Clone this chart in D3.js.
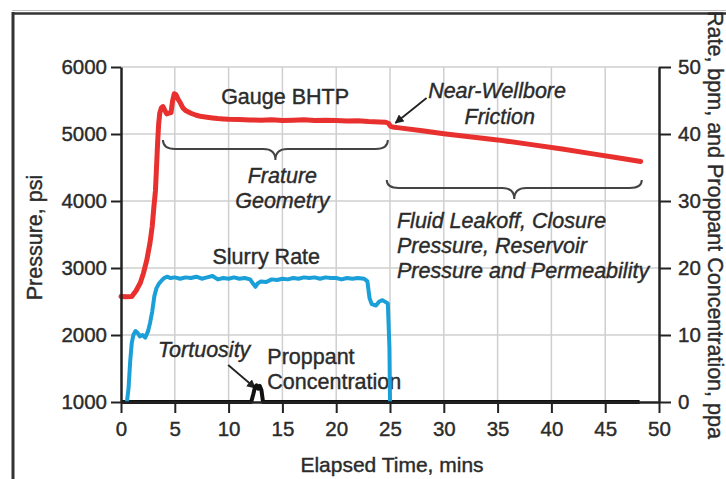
<!DOCTYPE html>
<html>
<head>
<meta charset="utf-8">
<script src="https://cdn.jsdelivr.net/npm/d3@7"></script>
<style>
  body { margin: 0; background: #fff; }
  svg { display: block; font-family: "Liberation Sans", Arial, Helvetica, sans-serif; }
</style>
</head>
<body>
<svg id="chart"></svg>
<script>
// Gauge BHTP: elapsed time (mins) vs pressure (psi)
const bhtpTime = [0, 0.5, 1.0, 1.4, 1.8, 2.1, 2.4, 2.7, 2.9, 3.05, 3.2, 3.3, 3.4, 3.5, 3.6, 3.75, 3.9, 4.05, 4.25, 4.45, 4.65, 4.8, 4.95, 5.1, 5.3, 5.5, 5.75, 6.0, 6.5, 7.0, 7.5, 8.0, 8.5, 9.0, 9.5, 10, 11, 12, 13, 14, 15, 16, 17, 18, 19, 20, 21, 22, 23, 24, 24.6, 24.85, 25.05, 25.4, 25.7, 28, 30, 32, 35, 38, 41, 44, 46, 48.3]
const bhtpPsi = [2575, 2570, 2575, 2660, 2780, 2930, 3120, 3380, 3620, 3900, 4150, 4500, 4860, 5150, 5310, 5390, 5410, 5360, 5300, 5310, 5320, 5500, 5600, 5590, 5520, 5470, 5390, 5350, 5310, 5280, 5260, 5250, 5240, 5230, 5225, 5220, 5215, 5210, 5205, 5212, 5200, 5207, 5212, 5200, 5206, 5200, 5195, 5197, 5185, 5180, 5175, 5160, 5115, 5100, 5095, 5050, 5005, 4965, 4912, 4845, 4775, 4700, 4650, 4590]

// Slurry rate: elapsed time (mins) vs rate (bpm)
const slurryTime = [0.55, 0.7, 0.85, 1.0, 1.15, 1.35, 1.55, 1.75, 2.0, 2.25, 2.5, 2.7, 2.9, 3.1, 3.3, 3.5, 3.7, 4.0, 4.3, 4.6, 5, 5.5, 6, 6.5, 7, 7.5, 8, 8.5, 9, 9.5, 10, 10.5, 11, 11.5, 12, 12.3, 12.5, 12.7, 13, 13.5, 14, 14.5, 15, 15.5, 16, 16.5, 17, 17.5, 18, 18.5, 19, 19.5, 20, 20.5, 21, 21.5, 22, 22.6, 22.9, 23.1, 23.3, 23.7, 24.0, 24.3, 24.6, 24.8, 24.95, 25.0]
const slurryRate = [0, 2, 6, 8.8, 10, 10.6, 10.3, 9.8, 10.0, 9.6, 10.5, 11.8, 13.5, 15.8, 17.0, 17.6, 18.0, 18.5, 18.7, 18.5, 18.6, 18.4, 18.6, 18.5, 18.7, 18.4, 18.6, 18.8, 18.3, 18.5, 18.4, 18.6, 18.4, 18.5, 18.3, 17.6, 17.2, 17.7, 18.0, 17.9, 18.3, 18.2, 18.4, 18.3, 18.5, 18.4, 18.6, 18.5, 18.6, 18.4, 18.6, 18.5, 18.5, 18.3, 18.5, 18.4, 18.5, 18.4, 18.0, 15.5, 14.6, 14.4, 15.0, 15.2, 14.9, 14.7, 8, 0]

// Proppant concentration: elapsed time (mins) vs ppa
const proppantTime = [0, 12.1, 12.3, 12.45, 12.6, 12.75, 12.9, 13.05, 13.2, 48.2]
const proppantPpa = [0, 0, 1.2, 2.2, 2.5, 2.0, 2.4, 1.8, 0, 0]

const timeTicks = [0, 5, 10, 15, 20, 25, 30, 35, 40, 45, 50]
const pressureTicks = [1000, 2000, 3000, 4000, 5000, 6000]
const rateTicks = [0, 10, 20, 30, 40, 50]

const width = 726, height = 479
const margin = { top: 67, right: 67, bottom: 77, left: 121 }
const textColor = "#2b2b2b"

const svg = d3.select("#chart")
  .attr("width", width)
  .attr("height", height)

const x = d3.scaleLinear().domain([0, 50]).range([margin.left, width - margin.right])
const y = d3.scaleLinear().domain([1000, 6000]).range([height - margin.bottom, margin.top])
const yRate = d3.scaleLinear().domain([0, 50]).range([height - margin.bottom, margin.top])

// outer frame of the figure (cut off at right and bottom)
svg.append("line").attr("x1", 12).attr("x2", width).attr("y1", 10.5).attr("y2", 10.5)
  .attr("stroke", "#bbb").attr("stroke-width", 1)
svg.append("line").attr("x1", 12).attr("x2", width).attr("y1", 13.5).attr("y2", 13.5)
  .attr("stroke", "#333").attr("stroke-width", 2.5)
svg.append("line").attr("x1", 13).attr("x2", 13).attr("y1", 12).attr("y2", height)
  .attr("stroke", "#333").attr("stroke-width", 3)

// grid
const grid = svg.append("g").attr("stroke", "#cfcfcf").attr("stroke-width", 1.5)
grid.selectAll(".vgrid")
  .data(timeTicks.slice(1, -1))
  .enter().append("line")
  .attr("x1", d => x(d)).attr("x2", d => x(d))
  .attr("y1", y(1000)).attr("y2", y(6000))
grid.selectAll(".hgrid")
  .data(pressureTicks.slice(1))
  .enter().append("line")
  .attr("x1", x(0)).attr("x2", x(50))
  .attr("y1", d => y(d)).attr("y2", d => y(d))

// annotations
const labels = [
  { text: "Gauge BHTP", t: 15.25, p: 5448, anchor: "middle", italic: false },
  { text: "Frature", t: 15.0, p: 4269, anchor: "middle", italic: true },
  { text: "Geometry", t: 15.0, p: 3896, anchor: "middle", italic: true },
  { text: "Near-Wellbore", t: 34.95, p: 5537, anchor: "middle", italic: true },
  { text: "Friction", t: 35.2, p: 5149, anchor: "middle", italic: true },
  { text: "Fluid Leakoff, Closure", t: 25.65, p: 3597, anchor: "start", italic: true },
  { text: "Pressure, Reservoir", t: 25.65, p: 3224, anchor: "start", italic: true },
  { text: "Pressure and Permeability", t: 25.65, p: 2851, anchor: "start", italic: true },
  { text: "Slurry Rate", t: 13.5, p: 3060, anchor: "middle", italic: false },
  { text: "Tortuosity", t: 7.73, p: 1672, anchor: "middle", italic: true },
  { text: "Proppant", t: 13.6, p: 1567, anchor: "start", italic: false },
  { text: "Concentration", t: 13.6, p: 1194, anchor: "start", italic: false }
]
svg.append("g").selectAll("text")
  .data(labels)
  .enter().append("text")
  .attr("x", d => x(d.t))
  .attr("y", d => y(d.p))
  .attr("text-anchor", d => d.anchor)
  .attr("font-style", d => d.italic ? "italic" : "normal")
  .attr("font-size", 21.5)
  .attr("fill", textColor)
  .attr("stroke", textColor)
  .attr("stroke-width", 0.4)
  .text(d => d.text)

// curly braces: time span, pressure at the ends, line and tip
const braces = [
  { t0: 3.9, t1: 24.8, pEnd: 4910, pLine: 4776, pTip: 4612 },
  { t0: 24.7, t1: 48.4, pEnd: 4313, pLine: 4194, pTip: 4030 }
]
function bracePath(b) {
  const x1 = x(b.t0), x2 = x(b.t1), xm = (x1 + x2) / 2, r = 12
  const yEnd = y(b.pEnd), yLine = y(b.pLine), yTip = y(b.pTip)
  return `M${x1},${yEnd} Q${x1},${yLine} ${x1 + r},${yLine} L${xm - r},${yLine} Q${xm},${yLine} ${xm},${yTip}` +
    ` Q${xm},${yLine} ${xm + r},${yLine} L${x2 - r},${yLine} Q${x2},${yLine} ${x2},${yEnd}`
}
svg.append("g").selectAll("path")
  .data(braces)
  .enter().append("path")
  .attr("d", bracePath)
  .attr("fill", "none")
  .attr("stroke", "#444")
  .attr("stroke-width", 2)

// arrows
svg.append("defs").append("marker")
  .attr("id", "arrow")
  .attr("viewBox", "0 0 10 10")
  .attr("refX", 9).attr("refY", 5)
  .attr("markerWidth", 9).attr("markerHeight", 9)
  .attr("markerUnits", "userSpaceOnUse")
  .attr("orient", "auto")
  .append("path")
  .attr("d", "M0,0 L10,5 L0,10 z")
  .attr("fill", "#222")
const arrows = [
  { t0: 28.4, p0: 5537, t1: 25.5, p1: 5164 },
  { t0: 9.96, p0: 1552, t1: 12.47, p1: 1209 }
]
svg.append("g").selectAll("line")
  .data(arrows)
  .enter().append("line")
  .attr("x1", d => x(d.t0)).attr("y1", d => y(d.p0))
  .attr("x2", d => x(d.t1)).attr("y2", d => y(d.p1))
  .attr("stroke", "#222")
  .attr("stroke-width", 1.8)
  .attr("marker-end", "url(#arrow)")

// series
const bhtp = bhtpTime.map((t, i) => [t, bhtpPsi[i]])
const slurry = slurryTime.map((t, i) => [t, slurryRate[i]])
const proppant = proppantTime.map((t, i) => [t, proppantPpa[i]])

svg.append("path")
  .datum(proppant)
  .attr("fill", "none")
  .attr("stroke", "#111")
  .attr("stroke-width", 4)
  .attr("stroke-linejoin", "round")
  .attr("d", d3.line().x(d => x(d[0])).y(d => yRate(d[1])))

svg.append("path")
  .datum(slurry)
  .attr("fill", "none")
  .attr("stroke", "#1a9fd8")
  .attr("stroke-width", 4)
  .attr("stroke-linejoin", "round")
  .attr("d", d3.line().x(d => x(d[0])).y(d => yRate(d[1])))

svg.append("path")
  .datum(bhtp)
  .attr("fill", "none")
  .attr("stroke", "#e8302e")
  .attr("stroke-width", 5)
  .attr("stroke-linejoin", "round")
  .attr("stroke-linecap", "round")
  .attr("d", d3.line().x(d => x(d[0])).y(d => y(d[1])))

// axes
function styleAxis(g) {
  g.select(".domain").attr("stroke", "#222").attr("stroke-width", 2.5)
  g.selectAll(".tick line").attr("stroke", "#222").attr("stroke-width", 2)
  g.selectAll(".tick text").attr("fill", textColor).attr("font-size", 20.5)
    .attr("stroke", textColor).attr("stroke-width", 0.4)
    .attr("font-family", "Liberation Sans, Arial, sans-serif")
}

svg.append("g")
  .attr("transform", `translate(0,${height - margin.bottom})`)
  .call(d3.axisBottom(x).tickValues(timeTicks).tickFormat(d3.format("d"))
    .tickSize(11).tickSizeOuter(0).tickPadding(8))
  .call(styleAxis)

svg.append("g")
  .attr("transform", `translate(${margin.left},0)`)
  .call(d3.axisLeft(y).tickValues(pressureTicks).tickFormat(d3.format("d"))
    .tickSize(10).tickSizeOuter(0).tickPadding(4))
  .call(styleAxis)

svg.append("g")
  .attr("transform", `translate(${width - margin.right},0)`)
  .call(d3.axisRight(yRate).tickValues(rateTicks).tickFormat(d3.format("d"))
    .tickSize(12).tickSizeOuter(0).tickPadding(7))
  .call(styleAxis)

// axis titles
const titleStyle = sel => sel.attr("fill", textColor).attr("stroke", textColor).attr("stroke-width", 0.4)

svg.append("text")
  .attr("x", 392).attr("y", 472)
  .attr("text-anchor", "middle")
  .attr("font-size", 21)
  .call(titleStyle)
  .text("Elapsed Time, mins")

svg.append("text")
  .attr("transform", "translate(42,237.5) rotate(-90)")
  .attr("text-anchor", "middle")
  .attr("font-size", 21.5)
  .call(titleStyle)
  .text("Pressure, psi")

svg.append("text")
  .attr("transform", "translate(708,11) rotate(90)")
  .attr("font-size", 21.5)
  .call(titleStyle)
  .text("Rate, bpm, and Proppant Concentration, ppa")
</script>
</body>
</html>
